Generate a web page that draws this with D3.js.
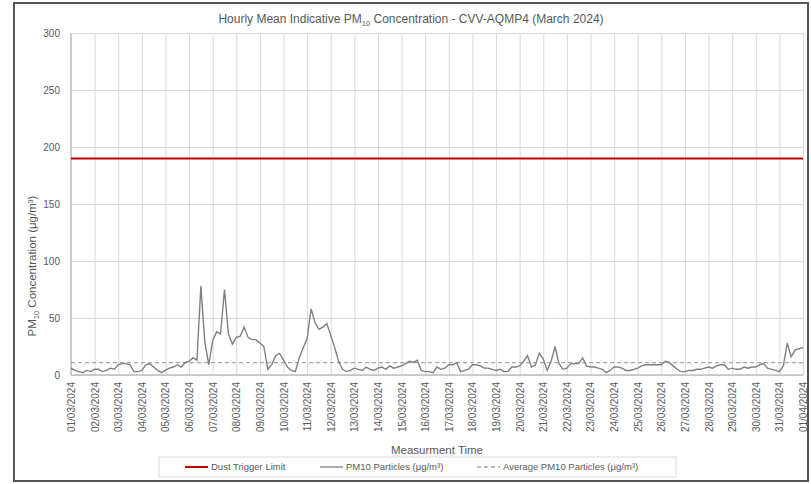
<!DOCTYPE html>
<html>
<head>
<meta charset="utf-8">
<script src="https://cdn.jsdelivr.net/npm/d3@7"></script>
<style>
  body { margin: 0; background: #fff; }
  text { font-family: 'Liberation Sans', Arial, sans-serif; fill: #595959; }
</style>
</head>
<body>
<div id="chart"></div>
<script>
// 4-hourly readings, 01/03/2024 00:00 onwards (6 per day), last value = 01/04 00:00
var pm10 = [
  6, 4, 3, 2, 4, 3,
  5, 5, 3, 4, 6, 5,
  9, 10, 10, 9, 3, 3,
  4, 9, 10, 7, 4, 2,
  4, 6, 7, 9, 7, 11,
  12, 15, 13, 78, 29, 9,
  30, 38, 36, 75, 36, 27,
  33, 34, 42, 33, 31, 31,
  28, 25, 5, 9, 17, 19,
  13, 7, 4, 3, 15, 24,
  32, 58, 46, 40, 42, 45,
  35, 24, 12, 5, 3, 4,
  6, 5, 4, 7, 5, 4,
  6, 7, 5, 8, 6, 7,
  8, 10, 12, 11, 13, 4,
  3, 3, 2, 7, 5, 6,
  9, 9, 11, 3, 4, 5,
  9, 9, 8, 6, 6, 5,
  4, 5, 3, 3, 7, 7,
  8, 12, 17, 7, 9, 19,
  14, 4, 12, 25, 10, 5,
  6, 10, 10, 10, 15, 8,
  7, 7, 6, 5, 2, 4,
  7, 7, 6, 4, 4, 5,
  6, 8, 9, 9, 9, 9,
  9, 12, 11, 8, 5, 3,
  3, 4, 4, 5, 5, 6,
  7, 6, 8, 9, 9, 5,
  6, 5, 5, 7, 6, 7,
  7, 9, 10, 6, 5, 4,
  3, 8, 28, 16, 22, 23,
  24
]
var sampleHours = 4
var dustTrigger = 190
var averagePm10 = 10.8
var yTicks = [0, 50, 100, 150, 200, 250, 300]
var dayLabels = [
  '01/03/2024', '02/03/2024', '03/03/2024', '04/03/2024', '05/03/2024',
  '06/03/2024', '07/03/2024', '08/03/2024', '09/03/2024', '10/03/2024',
  '11/03/2024', '12/03/2024', '13/03/2024', '14/03/2024', '15/03/2024',
  '16/03/2024', '17/03/2024', '18/03/2024', '19/03/2024', '20/03/2024',
  '21/03/2024', '22/03/2024', '23/03/2024', '24/03/2024', '25/03/2024',
  '26/03/2024', '27/03/2024', '28/03/2024', '29/03/2024', '30/03/2024',
  '31/03/2024', '01/04/2024'
]
var legendItems = [
  { label: 'Dust Trigger Limit', color: '#c00000', dash: null, width: 2 },
  { label: 'PM10 Particles (μg/m³)', color: '#808080', dash: null, width: 1.3 },
  { label: 'Average PM10 Particles (μg/m³)', color: '#a6a6a6', dash: '4,3', width: 1.3 }
]

var W = 811, H = 484
var margin = { top: 33, right: 8, bottom: 109, left: 71 }
var width = W - margin.left - margin.right
var height = H - margin.top - margin.bottom

var svg = d3.select('#chart').append('svg')
  .attr('width', W).attr('height', H)

// outer frame
svg.append('rect')
  .attr('x', 14).attr('y', 3).attr('width', 794).attr('height', 478)
  .attr('fill', 'none').attr('stroke', '#555').attr('stroke-width', 2)

var g = svg.append('g')
  .attr('transform', 'translate(' + margin.left + ',' + margin.top + ')')

var x = d3.scaleLinear().domain([0, dayLabels.length - 1]).range([0, width])
var y = d3.scaleLinear().domain([0, 300]).range([height, 0])

// gridlines
g.append('g')
  .call(d3.axisLeft(y).tickValues(yTicks).tickSize(-width).tickFormat(''))
  .call(s => s.select('.domain').remove())
  .selectAll('line').attr('stroke', '#d9d9d9')

g.append('g')
  .call(d3.axisBottom(x).tickValues(d3.range(dayLabels.length)).tickSize(height).tickFormat(''))
  .call(s => s.select('.domain').remove())
  .selectAll('line').attr('stroke', '#d9d9d9')

// axis lines
g.append('line').attr('x1', 0).attr('x2', 0).attr('y1', 0).attr('y2', height)
  .attr('stroke', '#bfbfbf').attr('stroke-width', 1.5)
g.append('line').attr('x1', 0).attr('x2', width).attr('y1', height).attr('y2', height)
  .attr('stroke', '#bfbfbf').attr('stroke-width', 1.5)

// y tick labels
var yAxis = g.append('g')
  .call(d3.axisLeft(y).tickValues(yTicks).tickSize(0).tickPadding(11))
yAxis.select('.domain').remove()
yAxis.selectAll('text').style('font-size', '10px').attr('fill', '#595959')

// x tick labels
var xAxis = g.append('g')
  .attr('transform', 'translate(0,' + height + ')')
  .call(d3.axisBottom(x).tickValues(d3.range(dayLabels.length)).tickSize(0)
    .tickFormat(function(d) { return dayLabels[d] }))
xAxis.select('.domain').remove()
xAxis.selectAll('text')
  .style('font-size', '10px')
  .attr('fill', '#595959')
  .attr('text-anchor', 'end')
  .attr('transform', 'rotate(-90)')
  .attr('x', -7).attr('y', 0).attr('dy', '0.35em')

// series
var series = pm10.map(function(v, i) { return { t: i * sampleHours / 24, v: v } })

g.append('line')
  .attr('x1', 0).attr('x2', width)
  .attr('y1', y(averagePm10)).attr('y2', y(averagePm10))
  .attr('stroke', '#a6a6a6').attr('stroke-width', 1.3).attr('stroke-dasharray', '4,3')

g.append('path')
  .datum(series)
  .attr('fill', 'none')
  .attr('stroke', '#808080')
  .attr('stroke-width', 1.4)
  .attr('d', d3.line().x(d => x(d.t)).y(d => y(d.v)))

g.append('line')
  .attr('x1', 0).attr('x2', width)
  .attr('y1', y(dustTrigger)).attr('y2', y(dustTrigger))
  .attr('stroke', '#c00000').attr('stroke-width', 2)

// title
var title = svg.append('text')
  .attr('x', 411).attr('y', 23).attr('text-anchor', 'middle')
  .style('font-size', '12px')
title.append('tspan').text('Hourly Mean Indicative PM')
title.append('tspan').attr('dy', 3).style('font-size', '7.5px').text('10')
title.append('tspan').attr('dy', -3).text(' Concentration - CVV-AQMP4 (March 2024)')

// y title
var yt = svg.append('text')
  .attr('transform', 'translate(36,266) rotate(-90)')
  .attr('text-anchor', 'middle')
  .style('font-size', '11.5px')
yt.append('tspan').text('PM')
yt.append('tspan').attr('dy', 3).style('font-size', '7.5px').text('10')
yt.append('tspan').attr('dy', -3).text(' Concentration (μg/m³)')

// x title
svg.append('text')
  .attr('x', margin.left + width / 2).attr('y', 454).attr('text-anchor', 'middle')
  .style('font-size', '11.5px')
  .text('Measurment Time')

// legend
var lg = svg.append('g')
lg.append('rect')
  .attr('x', 159).attr('y', 457).attr('width', 517).attr('height', 20)
  .attr('fill', '#fff').attr('stroke', '#d9d9d9')
var legendX = [185, 320, 477]
legendItems.forEach(function(d, i) {
  lg.append('line')
    .attr('x1', legendX[i]).attr('x2', legendX[i] + 23)
    .attr('y1', 467).attr('y2', 467)
    .attr('stroke', d.color).attr('stroke-width', d.width)
    .attr('stroke-dasharray', d.dash)
  lg.append('text')
    .attr('x', legendX[i] + 26).attr('y', 467).attr('dy', '0.35em')
    .style('font-size', '9.5px')
    .text(d.label)
})
</script>
</body>
</html>
